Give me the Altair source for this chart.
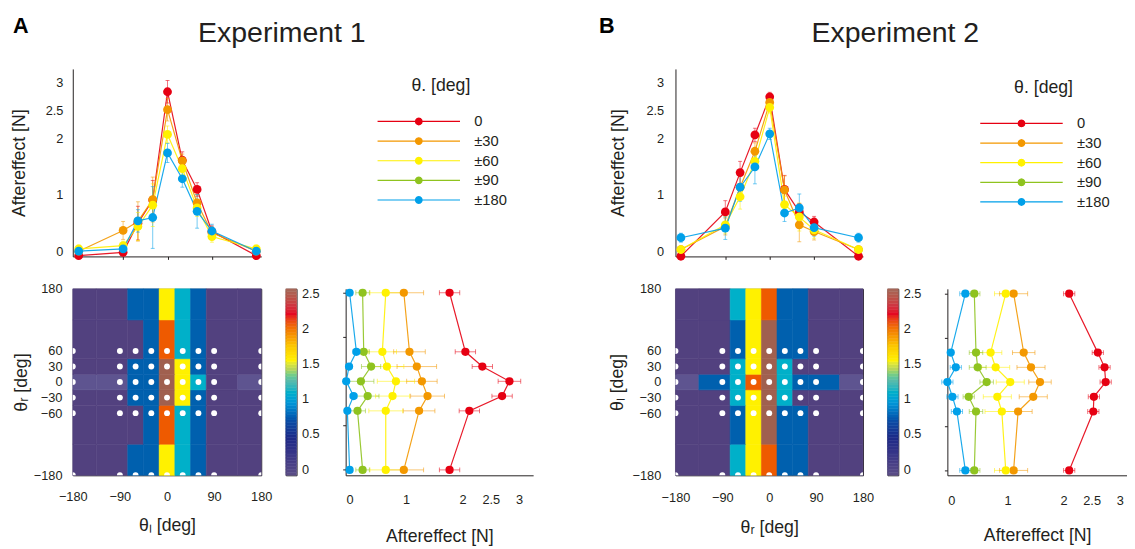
import altair as alt
import pandas as pd
import numpy as np

FONT = "Liberation Sans"
INK = "#231f20"

# ---------------- categories ----------------
theta_cols = [-180, -90, -60, -30, 0, 30, 60, 90, 180]
theta_rows = [180, 60, 30, 0, -30, -60, -180]
dot_rows = [-180, -60, -30, 0, 30, 60]
groups = ["0", "±30", "±60", "±90", "±180"]
group_colors = ["#e60012", "#f39800", "#fff100", "#8fc31f", "#00a0e9"]
top_groups = ["0", "±30", "±60", "±180"]
row_group = {0: "0", 30: "±30", 60: "±60", 180: "±180"}

# contour levels / colours
band_breaks = [0, 0.5, 1.0, 1.5, 2.0, 2.5]
band_colors = ["#5e5490", "#52417f", "#0060ae", "#00b0c9", "#fff100", "#ee5a00", "#a0604f"]
cmap_stops = [-0.09, 0.2, 0.45, 0.7, 0.95, 1.12, 1.27, 1.42, 1.55, 1.75, 1.92, 2.07, 2.2, 2.33, 2.57]
cmap_colors = ["#5b4e86", "#3a3888", "#1c2a88", "#0a50a8", "#0a98d8", "#18b2c6", "#5cbca8", "#b4d45c",
               "#fff000", "#fcc800", "#f59000", "#ee5a10", "#e6001e", "#cf3442", "#a26a5c"]
cbar_ticks = [0, 0.5, 1, 1.5, 2, 2.5]

# ---------------- Experiment 1 ----------------
e1_top_0 = [-0.08, -0.02, 0.50, 0.91, 2.84, 1.62, 1.10, 0.35, -0.08]
e1_top_30 = [0.00, 0.37, 0.53, 0.92, 2.52, 1.61, 0.86, 0.33, 0.00]
e1_top_60 = [0.04, 0.10, 0.44, 0.82, 2.08, 1.47, 0.77, 0.26, 0.04]
e1_top_180 = [0.00, 0.04, 0.54, 0.60, 1.75, 1.29, 0.71, 0.36, 0.00]
e1_top_err_0 = [0.03, 0.05, 0.30, 0.35, 0.20, 0.15, 0.12, 0.10, 0.03]
e1_top_err_30 = [0.05, 0.16, 0.35, 0.40, 0.20, 0.12, 0.15, 0.10, 0.05]
e1_top_err_60 = [0.07, 0.08, 0.25, 0.38, 0.15, 0.10, 0.15, 0.10, 0.07]
e1_top_err_180 = [0.05, 0.06, 0.20, 0.55, 0.17, 0.15, 0.30, 0.12, 0.05]

e1_side_0 = [1.77, 2.05, 2.35, 2.83, 2.70, 2.12, 1.77]
e1_side_30 = [0.96, 1.06, 1.19, 1.28, 1.38, 1.23, 0.96]
e1_side_60 = [0.64, 0.58, 0.66, 0.82, 0.76, 0.64, 0.64]
e1_side_90 = [0.23, 0.25, 0.38, 0.20, 0.32, 0.14, 0.23]
e1_side_180 = [0.00, 0.12, -0.01, -0.06, 0.07, -0.04, 0.00]
e1_side_err_0 = [0.18, 0.18, 0.18, 0.20, 0.18, 0.18, 0.18]
e1_side_err_30 = [0.35, 0.28, 0.35, 0.27, 0.30, 0.28, 0.35]
e1_side_err_60 = [0.28, 0.25, 0.30, 0.33, 0.30, 0.30, 0.28]
e1_side_err_90 = [0.12, 0.10, 0.17, 0.23, 0.20, 0.14, 0.12]
e1_side_err_180 = [0.05, 0.06, 0.05, 0.05, 0.06, 0.04, 0.05]

# ---------------- Experiment 2 ----------------
e2_top_0 = [-0.09, 0.70, 1.40, 2.07, 2.75, 1.10, 0.70, 0.52, -0.09]
e2_top_30 = [0.03, 0.44, 1.14, 1.78, 2.65, 1.09, 0.47, 0.35, 0.03]
e2_top_60 = [0.03, 0.47, 0.97, 1.60, 2.56, 0.83, 0.61, 0.38, 0.03]
e2_top_180 = [0.24, 0.41, 1.14, 1.50, 2.09, 0.68, 0.77, 0.42, 0.24]
e2_top_err_0 = [0.05, 0.20, 0.20, 0.12, 0.08, 0.25, 0.15, 0.10, 0.05]
e2_top_err_30 = [0.05, 0.15, 0.20, 0.15, 0.10, 0.25, 0.30, 0.15, 0.05]
e2_top_err_60 = [0.05, 0.15, 0.22, 0.15, 0.10, 0.15, 0.25, 0.15, 0.05]
e2_top_err_180 = [0.08, 0.20, 0.25, 0.30, 0.10, 0.15, 0.25, 0.15, 0.08]

e2_side_0 = [2.10, 2.61, 2.73, 2.75, 2.54, 2.53, 2.10]
e2_side_30 = [1.11, 1.29, 1.42, 1.58, 1.46, 1.19, 1.11]
e2_side_60 = [0.97, 0.70, 0.79, 1.05, 0.82, 0.90, 0.97]
e2_side_90 = [0.41, 0.44, 0.47, 0.63, 0.31, 0.44, 0.41]
e2_side_180 = [0.25, -0.01, 0.08, -0.07, 0.02, 0.10, 0.25]
e2_side_err_0 = [0.10, 0.10, 0.10, 0.10, 0.10, 0.10, 0.10]
e2_side_err_30 = [0.25, 0.20, 0.25, 0.20, 0.25, 0.25, 0.25]
e2_side_err_60 = [0.20, 0.20, 0.25, 0.25, 0.25, 0.30, 0.20]
e2_side_err_90 = [0.10, 0.12, 0.15, 0.12, 0.10, 0.12, 0.10]
e2_side_err_180 = [0.10, 0.05, 0.10, 0.10, 0.10, 0.10, 0.10]

headings = ["Experiment 1", "Experiment 2"]
letters = ["A", "B"]


def octagon(r):
    pts = [(r * np.cos(a), r * np.sin(a)) for a in np.linspace(0, 2 * np.pi, 13)[:-1]]
    return "M" + "L".join(f"{x:.3f},{y:.3f}" for x, y in pts) + "Z"


LEG_PATH = "M-10.5,0H10.5" + "".join(octagon(r) for r in (0.25, 0.55, 0.85))


def edges(vals):
    v = sorted(vals)
    mids = [(a + b) / 2 for a, b in zip(v[:-1], v[1:])]
    return [v[0]] + mids + [v[-1]]


def color_enc(legend=None):
    return alt.Color("group:N", scale=alt.Scale(domain=groups, range=group_colors),
                     legend=legend, title="θ. [deg]")


def top_chart(vals, errs, letter, heading, P):
    rows = []
    for g in top_groups:
        for th, v, e in zip(theta_cols, vals[g], errs[g]):
            rows.append({"group": g, "theta": th, "value": v, "lo": v - e, "hi": v + e})
    df = pd.DataFrame(rows)
    xsc = alt.Scale(domain=P["top_xdom"], nice=False, zero=False)
    ysc = alt.Scale(domain=[-0.093, 3.246], nice=False, zero=False)
    xax = alt.Axis(values=[-90, 0, 90], labels=False, title=None, tickSize=3, grid=False)
    yax = alt.Axis(values=[0, 1, 2, 2.5, 3], format="~g", title="Aftereffect [N]", grid=False,
                   ticks=False, labelPadding=P["top_lp"], minExtent=P["top_ext"],
                   maxExtent=P["top_ext"], titlePadding=P["top_tp"], domain=True)
    X = alt.X("theta:Q", scale=xsc, axis=xax)
    legend = alt.Legend(title="θ. [deg]", orient="none", legendX=P["leg_x"], legendY=P["leg_y"],
                        symbolType=LEG_PATH, symbolSize=64, symbolStrokeWidth=1.2,
                        symbolOffset=37, labelOffset=49, labelFontSize=15, labelFont=FONT,
                        labelColor=INK, titleFontSize=18, titleFont=FONT, titleFontWeight="normal",
                        titleColor=INK, titleAnchor="middle", titlePadding=20, rowPadding=4,
                        padding=0, symbolOpacity=1)
    C = color_enc(legend)
    base = alt.Chart(df)
    err = base.mark_rule(strokeWidth=1, opacity=0.55).encode(
        X, y=alt.Y("lo:Q", scale=ysc, axis=yax), y2="hi:Q", color=C)
    cap_lo = base.mark_tick(orient="horizontal", size=4, thickness=1, opacity=0.55).encode(
        X, y=alt.Y("lo:Q", scale=ysc, axis=yax), color=C)
    cap_hi = base.mark_tick(orient="horizontal", size=4, thickness=1, opacity=0.55).encode(
        X, y=alt.Y("hi:Q", scale=ysc, axis=yax), color=C)
    line = base.mark_line(strokeWidth=1.2, opacity=0.9).encode(
        X, y=alt.Y("value:Q", scale=ysc, axis=yax), color=C)
    pts = base.mark_circle(size=80, opacity=1).encode(
        X, y=alt.Y("value:Q", scale=ysc, axis=yax), color=C)
    t1 = alt.Chart(pd.DataFrame({"t": [letter]})).mark_text(
        font=FONT, fontSize=22, fontWeight="bold", align="left", baseline="alphabetic",
        color="black").encode(x=alt.value(P["letter_x"]), y=alt.value(P["letter_y"]), text="t:N")
    t2 = alt.Chart(pd.DataFrame({"t": [heading]})).mark_text(
        font=FONT, fontSize=29, align="center", baseline="alphabetic", color=INK).encode(
        x=alt.value(P["head_x"]), y=alt.value(P["head_y"]), text="t:N")
    return alt.layer(line, err, cap_lo, cap_hi, pts, t1, t2).properties(width=P["top_w"], height=191)


def heat_chart(vals, P, xtitle, ytitle):
    xe = edges(theta_cols)
    rs = sorted(theta_rows)
    ye = edges(rs)
    cells = []
    for j, ty in enumerate(rs):
        g = row_group[abs(ty)]
        for i, tx in enumerate(theta_cols):
            cells.append({"x0": xe[i], "x1": xe[i + 1], "y0": ye[j], "y1": ye[j + 1], "v": vals[g][i]})
    cdf = pd.DataFrame(cells)
    ddf = pd.DataFrame([{"tx": tx, "ty": ty} for ty in dot_rows for tx in theta_cols])
    xsc = alt.Scale(domain=[-180, 180], nice=False, zero=False)
    ysc = alt.Scale(domain=[-180, 180], nice=False, zero=False)
    xax = alt.Axis(values=[-180, -90, 0, 90, 180], title=xtitle, ticks=False, domain=False,
                   labelFlush=False, labelPadding=P["hx_lp"], titlePadding=P["hx_tp"], grid=False)
    yax = alt.Axis(values=[-180, -60, -30, 0, 30, 60, 180], title=ytitle, ticks=False, domain=False,
                   labelPadding=P["hy_lp"], minExtent=P["hy_ext"], maxExtent=P["hy_ext"],
                   titlePadding=P["hy_tp"], grid=False)
    bsc = alt.Scale(type="threshold", domain=band_breaks, range=band_colors)
    rect = alt.Chart(cdf).mark_rect(strokeWidth=0.6).encode(
        x=alt.X("x0:Q", scale=xsc, axis=xax), x2="x1:Q",
        y=alt.Y("y0:Q", scale=ysc, axis=yax), y2="y1:Q",
        fill=alt.Fill("v:Q", scale=bsc, legend=None),
        stroke=alt.Stroke("v:Q", scale=bsc, legend=None))
    dots = alt.Chart(ddf).mark_circle(size=36, color="white", opacity=1, clip=True).encode(
        x=alt.X("tx:Q", scale=xsc, axis=xax), y=alt.Y("ty:Q", scale=ysc, axis=yax))
    return alt.layer(rect, dots).properties(
        width=P["heat_w"], height=190, view=alt.ViewBackground(stroke=INK, strokeWidth=1))


def cbar_chart():
    lo, hi = -0.087, 2.565
    e = np.linspace(lo, hi, 65)
    df = pd.DataFrame({"a": e[:-1], "b": e[1:], "m": (e[:-1] + e[1:]) / 2})
    csc = alt.Scale(domain=cmap_stops, range=cmap_colors)
    return alt.Chart(df).mark_rect(strokeWidth=0.5).encode(
        y=alt.Y("a:Q", scale=alt.Scale(domain=[lo, hi], nice=False, zero=False),
                axis=alt.Axis(orient="right", values=cbar_ticks, format="~g", ticks=False,
                              domain=False, labelPadding=5, title=None, grid=False)),
        y2="b:Q",
        fill=alt.Fill("m:Q", scale=csc, legend=None),
        stroke=alt.Stroke("m:Q", scale=csc, legend=None),
    ).properties(width=11, height=190, view=alt.ViewBackground(stroke=INK, strokeWidth=1))


def side_chart(vals, errs, P):
    rows = []
    for g in groups:
        for th, v, e in zip(theta_rows, vals[g], errs[g]):
            rows.append({"group": g, "theta": th, "value": v, "lo": v - e, "hi": v + e})
    df = pd.DataFrame(rows)
    xsc = alt.Scale(domain=[-0.07, P["r_xmax"]], nice=False, zero=False)
    ysc = alt.Scale(domain=P["r_ydom"], nice=False, zero=False)
    xax = alt.Axis(values=[0, 1, 2, 2.5, 3], format="~g", title="Aftereffect [N]", grid=False,
                   ticks=False, labelFlush=False, labelPadding=P["r_lp"], titlePadding=P["r_tp"])
    yax = alt.Axis(values=[-180, -90, 0, 90, 180], labels=False, title=None, tickSize=3, grid=False)
    Y = alt.Y("theta:Q", scale=ysc, axis=yax)
    C = color_enc(None)
    base = alt.Chart(df)
    err = base.mark_rule(strokeWidth=1, opacity=0.55).encode(
        x=alt.X("lo:Q", scale=xsc, axis=xax), x2="hi:Q", y=Y, color=C)
    cap_lo = base.mark_tick(orient="vertical", size=5, thickness=1, opacity=0.55).encode(
        x=alt.X("lo:Q", scale=xsc, axis=xax), y=Y, color=C)
    cap_hi = base.mark_tick(orient="vertical", size=5, thickness=1, opacity=0.55).encode(
        x=alt.X("hi:Q", scale=xsc, axis=xax), y=Y, color=C)
    line = base.mark_line(strokeWidth=1.2, opacity=0.9).encode(
        x=alt.X("value:Q", scale=xsc, axis=xax), y=Y, color=C, order=alt.Order("theta:Q"))
    pts = base.mark_circle(size=70, opacity=1).encode(
        x=alt.X("value:Q", scale=xsc, axis=xax), y=Y, color=C)
    return alt.layer(err, cap_lo, cap_hi, line, pts).properties(width=P["r_w"], height=190)


RES = dict(color="independent", fill="independent", stroke="independent")


def block(top_vals, top_errs, side_vals, side_errs, k, xtitle, ytitle, P):
    top = top_chart(top_vals, top_errs, letters[k], headings[k], P)
    heat = heat_chart(top_vals, P, xtitle, ytitle)
    cb = cbar_chart()
    side = side_chart(side_vals, side_errs, P)
    inner = alt.hconcat(heat, cb, spacing=P["s1"], bounds="flush").resolve_scale(**RES)
    bottom = alt.hconcat(inner, side, spacing=P["s2"]).resolve_scale(**RES)
    return alt.vconcat(top, bottom, spacing=P["sv"], bounds="flush").resolve_scale(
        **RES).resolve_legend(color="independent")


P1 = dict(top_xdom=[-192, 190], top_w=192, top_lp=10, top_ext=32, top_tp=13,
          hx_lp=16, hx_tp=13, hy_lp=11, hy_ext=38, hy_tp=5, heat_w=192,
          r_xmax=3.25, r_ydom=[-191, 188], r_lp=19, r_tp=21, r_w=191,
          letter_x=-61, letter_y=-37, head_x=213, head_y=-27, leg_x=308, leg_y=8,
          s1=25, s2=22, sv=33)
P2 = dict(top_xdom=[-191, 189], top_w=191, top_lp=12, top_ext=32, top_tp=17,
          hx_lp=17, hx_tp=14, hy_lp=15, hy_ext=42, hy_tp=8, heat_w=191,
          r_xmax=3.13, r_ydom=[-190, 190], r_lp=20, r_tp=19, r_w=183,
          letter_x=-78, letter_y=-37, head_x=224, head_y=-27, leg_x=308, leg_y=10,
          s1=25, s2=19, sv=33)

e1_top = {"0": e1_top_0, "±30": e1_top_30, "±60": e1_top_60, "±180": e1_top_180}
e1_top_err = {"0": e1_top_err_0, "±30": e1_top_err_30, "±60": e1_top_err_60, "±180": e1_top_err_180}
e1_side = {"0": e1_side_0, "±30": e1_side_30, "±60": e1_side_60, "±90": e1_side_90, "±180": e1_side_180}
e1_side_err = {"0": e1_side_err_0, "±30": e1_side_err_30, "±60": e1_side_err_60,
               "±90": e1_side_err_90, "±180": e1_side_err_180}
e2_top = {"0": e2_top_0, "±30": e2_top_30, "±60": e2_top_60, "±180": e2_top_180}
e2_top_err = {"0": e2_top_err_0, "±30": e2_top_err_30, "±60": e2_top_err_60, "±180": e2_top_err_180}
e2_side = {"0": e2_side_0, "±30": e2_side_30, "±60": e2_side_60, "±90": e2_side_90, "±180": e2_side_180}
e2_side_err = {"0": e2_side_err_0, "±30": e2_side_err_30, "±60": e2_side_err_60,
               "±90": e2_side_err_90, "±180": e2_side_err_180}

b1 = block(e1_top, e1_top_err, e1_side, e1_side_err, 0, "θₗ [deg]", "θᵣ [deg]", P1)
b2 = block(e2_top, e2_top_err, e2_side, e2_side_err, 1, "θᵣ [deg]", "θₗ [deg]", P2)

chart = alt.hconcat(b1, b2, spacing=67).resolve_scale(**RES).resolve_legend(
    color="independent").properties(
    padding={"left": 3, "top": 2, "right": 0, "bottom": 0},
    background="white",
).configure_view(stroke=None).configure_axis(
    labelFont=FONT, titleFont=FONT, labelFontSize=13, titleFontSize=18,
    labelColor=INK, titleColor=INK, titleFontWeight="normal",
    domainColor=INK, tickColor=INK, domainWidth=1,
)

chart.save("out.html", embed_options={"renderer": "svg", "actions": False})
